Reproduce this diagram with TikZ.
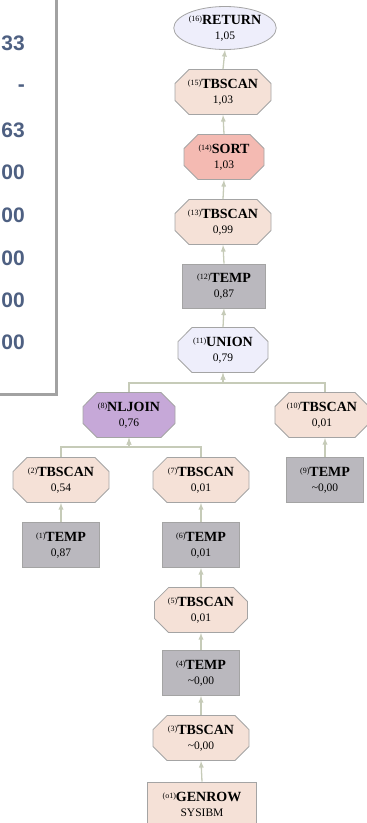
\documentclass[tikz,border=0pt]{standalone}
\usepackage{fontspec}
\setmainfont{Liberation Serif}
\newfontfamily\panelfont{Liberation Sans}
\usetikzlibrary{arrows,shapes.geometric,shapes.misc}

\definecolor{scanfill}{HTML}{F5E1D7}
\definecolor{sortfill}{HTML}{F4BAB2}
\definecolor{tempfill}{HTML}{BAB8BE}
\definecolor{retfill}{HTML}{EEEEFB}
\definecolor{joinfill}{HTML}{C6A8D8}
\definecolor{opline}{HTML}{A4A4A4}
\definecolor{edgeline}{HTML}{C6CBB8}
\definecolor{paneltext}{HTML}{4E6082}
\definecolor{panelline}{HTML}{A2A2A2}

\newcommand{\opname}[3]{\raisebox{2.5pt}{\fontsize{8}{8}\selectfont(#1)}\textbf{#2}\\{\fontsize{11.5}{11.5}\selectfont #3}}

\tikzset{
  op/.style={draw=opline, line width=0.8pt, align=center, inner sep=1pt,
    font=\fontsize{14}{15}\selectfont, minimum height=45pt},
  scanop/.style={op, chamfered rectangle, chamfered rectangle xsep=11pt, fill=scanfill, minimum width=96pt},
  sortop/.style={op, chamfered rectangle, chamfered rectangle xsep=11pt, fill=sortfill, minimum width=80pt},
  joinop/.style={op, chamfered rectangle, chamfered rectangle xsep=11pt, fill=joinfill, minimum width=92pt},
  unionop/.style={op, chamfered rectangle, chamfered rectangle xsep=11pt, fill=retfill, minimum width=90pt},
  tempop/.style={op, rectangle, fill=tempfill, minimum width=80pt},
  retop/.style={op, ellipse, fill=retfill, minimum width=99pt, minimum height=43pt, inner sep=0pt},
  edge/.style={draw=edgeline, line width=1.3pt, -latex},
  panelnum/.style={anchor=east, text=paneltext, inner sep=0pt,
    font=\panelfont\bfseries\fontsize{21}{21}\selectfont}
}

\begin{document}
\begin{tikzpicture}[x=1pt,y=-1pt]
  \useasboundingbox (0,0) rectangle (367,823);
  \clip (0,0) rectangle (367,823);

  % panel on the left
  \draw[draw=panelline, line width=3pt, fill=white] (-5,-5) rectangle (56,394);
  \node[panelnum] (v1) at (25,43) {33};
  \node[panelnum] (v2) at (25,88) {-};
  \node[panelnum] (v3) at (25,130) {63};
  \node[panelnum] (v4) at (25,172) {00};
  \node[panelnum] (v5) at (25,215) {00};
  \node[panelnum] (v6) at (25,258) {00};
  \node[panelnum] (v7) at (25,300) {00};
  \node[panelnum] (v8) at (25,342) {00};

  % plan operators
  \node[retop] (n16) at (225,28) {\opname{16}{RETURN}{1,05}};
  \node[scanop] (n15) at (223,92) {\opname{15}{TBSCAN}{1,03}};
  \node[sortop] (n14) at (224,157) {\opname{14}{SORT}{1,03}};
  \node[scanop] (n13) at (223,222) {\opname{13}{TBSCAN}{0,99}};
  \node[tempop, minimum width=83pt, minimum height=44pt] (n12) at (224,286) {\opname{12}{TEMP}{0,87}};
  \node[unionop] (n11) at (223,350) {\opname{11}{UNION}{0,79}};
  \node[joinop] (n8) at (129,415) {\opname{8}{NLJOIN}{0,76}};
  \node[scanop, minimum width=93pt] (n10) at (322,415) {\opname{10}{TBSCAN}{0,01}};
  \node[scanop] (n2) at (61,480) {\opname{2}{TBSCAN}{0,54}};
  \node[scanop] (n7) at (201,480) {\opname{7}{TBSCAN}{0,01}};
  \node[tempop, minimum width=77pt] (n9) at (325,480) {\opname{9}{TEMP}{\textasciitilde0,00}};
  \node[tempop, minimum width=77pt] (n1) at (61,545) {\opname{1}{TEMP}{0,87}};
  \node[tempop, minimum width=77pt] (n6) at (201,545) {\opname{6}{TEMP}{0,01}};
  \node[scanop, minimum width=93pt] (n5) at (201,610) {\opname{5}{TBSCAN}{0,01}};
  \node[tempop, minimum width=77pt] (n4) at (201,673) {\opname{4}{TEMP}{\textasciitilde0,00}};
  \node[scanop] (n3) at (201,738) {\opname{3}{TBSCAN}{\textasciitilde0,00}};
  \node[op, rectangle, fill=scanfill, minimum width=109pt, minimum height=44pt] (n0) at (202,804) {\opname{o1}{GENROW}{SYSIBM}};

  % data flow
  \draw[edge] (n15.north) -- (n16.south);
  \draw[edge] (n14.north) -- (n15.south);
  \draw[edge] (n13.north) -- (n14.south);
  \draw[edge] (n12.north) -- (n13.south);
  \draw[edge] (n11.north) -- (n12.south);
  \draw[edge] (n8.north) -- ++(0,-9) -| (n11.south);
  \draw[edge] (n10.north -| n9.north) -- ++(0,-9) -| (n11.south);
  \draw[edge] (n2.north) -- ++(0,-10) -| (n8.south);
  \draw[edge] (n7.north) -- ++(0,-10) -| (n8.south);
  \draw[edge] (n9.north) -- (n10.south -| n9.north);
  \draw[edge] (n1.north) -- (n2.south);
  \draw[edge] (n6.north) -- (n7.south);
  \draw[edge] (n5.north) -- (n6.south);
  \draw[edge] (n4.north) -- (n5.south);
  \draw[edge] (n3.north) -- (n4.south);
  \draw[edge] (n0.north) -- (n3.south);
\end{tikzpicture}
\end{document}
